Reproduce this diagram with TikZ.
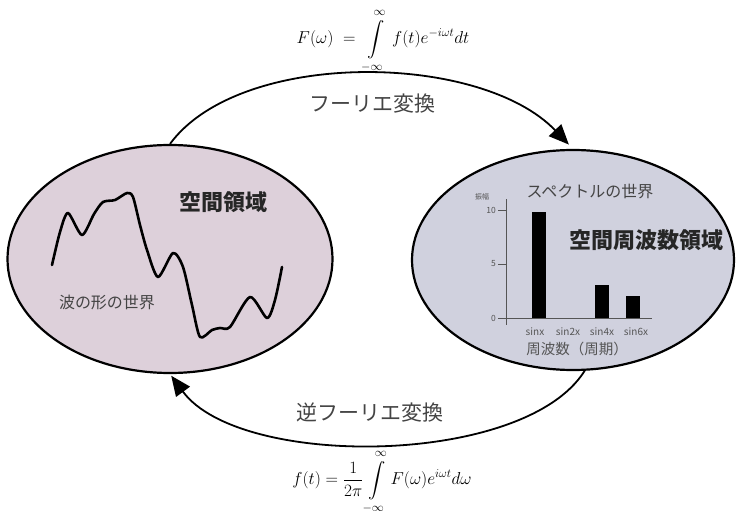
\documentclass[tikz,border=0pt]{standalone}
\usepackage{fontspec}
\usepackage{amsmath}
\newfontfamily\jp{Noto Sans CJK JP}
\usetikzlibrary{shapes.geometric,arrows.meta}
\definecolor{leftfill}{HTML}{DDD0DA}
\definecolor{rightfill}{HTML}{D0D1DE}
\definecolor{labgray}{HTML}{444444}
\definecolor{axgray}{HTML}{555555}
\newcommand{\uplim}{\raise1.5pt\hbox{$\scriptstyle\infty$}}
\newcommand{\lowlim}{\lower1.5pt\hbox{$\scriptstyle-\infty$}}
\tikzset{
  domainbox/.style={ellipse, draw=black, line width=2.2pt, inner sep=0pt},
  arcline/.style={line width=1.8pt, -{Triangle[length=20pt,width=17pt]}},
  translabel/.style={font=\jp\fontsize{21}{24}\selectfont, text=labgray},
  titletext/.style={font=\jp\bfseries\fontsize{22}{25}\selectfont, text=black!85},
  subtext/.style={font=\jp\fontsize{16}{19}\selectfont, text=labgray},
  formulatext/.style={font=\fontsize{17}{20}\selectfont, inner sep=0pt},
  ticklabel/.style={font=\jp\fontsize{8.5}{10}\selectfont, text=axgray, anchor=east, inner sep=1pt},
  xlabtext/.style={font=\jp\fontsize{10}{12}\selectfont, text=axgray, inner sep=0pt},
  barfill/.style={fill=black}
}
\begin{document}
\begin{tikzpicture}[x=1pt,y=-1pt]
\useasboundingbox (0,0) rectangle (737,511);

% ellipses
\node[domainbox, fill=leftfill, minimum width=325pt, minimum height=228pt] (L) at (170,259) {};
\node[domainbox, fill=rightfill, minimum width=322pt, minimum height=220pt] (R) at (573,260) {};

% formulas
\node[formulatext] (F1) at (383,41) {$F(\omega)\;=\;\displaystyle\int\limits_{\lowlim}^{\uplim}\, f(t)e^{-i\omega t}dt$};
\node[formulatext] (F2) at (382,482) {$f(t)=\dfrac{1}{2\pi}\displaystyle\int\limits_{\lowlim}^{\uplim} F(\omega)e^{i\omega t}d\omega$};

% arcs
\draw[arcline, shorten >=6pt] (L.north) .. controls +(70,-95) and +(-93,-97) .. (R.north);
\draw[arcline, shorten >=2pt] (R.-84) .. controls +(-60,96) and +(70,95) .. (L.south);

\node[translabel] (T1) at (372,104) {フーリエ変換};
\node[translabel] (T2) at (370,413) {逆フーリエ変換};

% left content
\node[titletext] (LT) at (223,202) {空間領域};
\node[subtext] (LS) at (107,302) {波の形の世界};
\draw[line width=2.6pt, line join=round, line cap=round]
  plot[smooth, tension=0.45] coordinates {
  (52,265) (60,232) (68,213) (82,235) (94,214) (103,202) (115,200) (127,193) (133,197)
  (140,225) (147,250) (158,277) (173,253) (183,267) (192,305) (200,337) (212,330)
  (220,328) (230,327) (250,297) (267,318) (275,300) (282,267)};

% right content
\node[subtext] (RS) at (590,192) {スペクトルの世界};
\node[titletext] (RT) at (646,240) {空間周波数領域};
\node[font=\jp\fontsize{7}{8}\selectfont, text=axgray] (amp) at (482,197) {振幅};
\draw[axgray, line width=1pt] (506,199) -- (506,325);
\draw[axgray, line width=1pt] (498,318) -- (652,318);
\draw[axgray, line width=1pt] (498,210) -- (506,210);
\draw[axgray, line width=1pt] (498,264) -- (506,264);
\node[ticklabel] (t10) at (497,210) {10};
\node[ticklabel] (t5) at (497,264) {5};
\node[ticklabel] (t0) at (497,318) {0};
\fill[barfill] (532,212) rectangle (546,318);
\fill[barfill] (595,285) rectangle (609,318);
\fill[barfill] (626,296) rectangle (640,318);
\node[xlabtext] (x1) at (535,332) {sinx};
\node[xlabtext] (x2) at (568,332) {sin2x};
\node[xlabtext] (x3) at (602,332) {sin4x};
\node[xlabtext] (x4) at (636,332) {sin6x};
\node[font=\jp\fontsize{14.5}{17}\selectfont, text=axgray] (RX) at (577,349) {周波数（周期）};
\end{tikzpicture}
\end{document}
